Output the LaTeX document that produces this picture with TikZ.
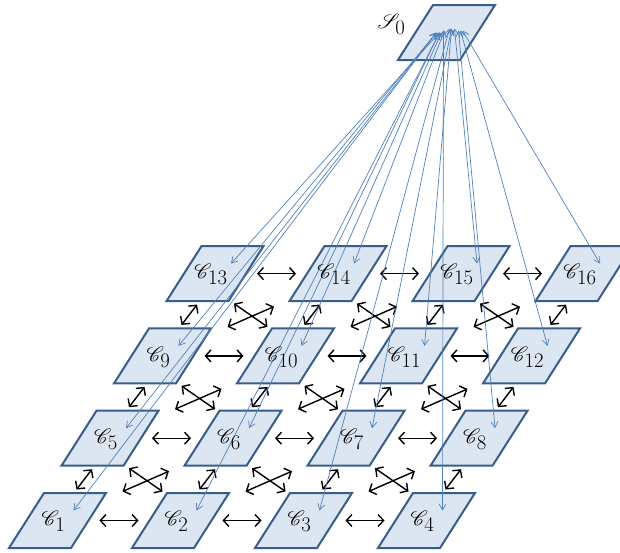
\documentclass[tikz,border=0pt]{standalone}
\usepackage{amsmath,amssymb,mathrsfs}
\usetikzlibrary{arrows.meta}
\definecolor{cellfill}{RGB}{220,230,242}
\definecolor{cellline}{RGB}{56,93,138}
\definecolor{feedblue}{RGB}{79,129,189}
\tikzset{
  cell/.style={draw=cellline, fill=cellfill, line width=2pt, line join=miter},
  lab/.style={inner sep=0pt, font=\fontsize{20}{24}\selectfont},
  link/.style={line width=1.4pt, {Straight Barb[length=5.5pt,width=12pt]}-{Straight Barb[length=5.5pt,width=12pt]}},
  feed/.style={feedblue, line width=0.7pt, {Straight Barb[length=6pt,width=7pt]}-{Straight Barb[length=6pt,width=7pt]}}
}
\begin{document}
\begin{tikzpicture}[x=1pt,y=-1pt]
\useasboundingbox (0,0) rectangle (620,552);
%\draw [help lines, step=20] (0,0) grid (620,552);
% the sixteen cells
\foreach \j in {0,...,3}
 \foreach \i in {0,...,3} {
   \pgfmathtruncatemacro\n{4*\j+\i+1}
   \coordinate (c\n) at ({57.5+123*\i+52.5*\j},{520.5-82.3*\j});
   \draw [cell] ([shift={(-48.5,27.5)}]c\n) -- ++(62,0) -- ++(35,-55) -- ++(-62,0) -- cycle;
 }
% the top cell
\coordinate (s0) at (446.5,32.5);
\draw [cell] ([shift={(-48.5,27.5)}]s0) -- ++(62,0) -- ++(35,-55) -- ++(-62,0) -- cycle;
\node [lab] (s0lab) at ([shift={(-55,-8)}]s0) {$\mathscr{S}_{\textstyle 0}$};
% left-right neighbours
\foreach \j in {0,...,3}
 \foreach \i in {1,...,3} {
   \pgfmathtruncatemacro\na{4*\j+\i}
   \pgfmathtruncatemacro\nb{\na+1}
   \draw [link] ([shift={(42,0)}]c\na) -- ([shift={(-42,0)}]c\nb);
 }
% up-down neighbours
\foreach \n in {1,...,12} {
   \pgfmathtruncatemacro\nb{\n+4}
   \draw [link] ([shift={(19,-31)}]c\n) -- ([shift={(-18,31)}]c\nb);
}
% crossed diagonals
\foreach \j in {0,1,2}
 \foreach \i in {1,2,3} {
   \pgfmathtruncatemacro\na{4*\j+\i}
   \pgfmathtruncatemacro\nb{\na+1}
   \pgfmathtruncatemacro\nc{\na+4}
   \pgfmathtruncatemacro\nd{\na+5}
   \draw [link] ([shift={(19,30)}]c\nc) -- ([shift={(-18,-29)}]c\nb);
   \draw [link] ([shift={(65,-29)}]c\na) -- ([shift={(-64,33)}]c\nd);
 }
% links from the top cell
\foreach \n/\sx/\sy in {1/-10/0, 5/-10/0, 9/-10/0, 13/-7/0,
                        2/-7/0, 6/-7/0, 10/-5/0, 14/-2/-2,
                        3/3/-4, 7/5/-4, 11/5/-4, 15/8/-4,
                        4/-3/-2, 8/12/-2, 12/14/-2, 16/16/-2}
   \draw [feed] ([shift={(\sx,\sy)}]s0) -- ([shift={(16,-10)}]c\n);
% labels
\foreach \n in {1,...,16}
   \node [lab] (l\n) at ([shift={(-4,1)}]c\n) {$\mathscr{C}_{\textstyle\n}$};
\end{tikzpicture}
\end{document}
